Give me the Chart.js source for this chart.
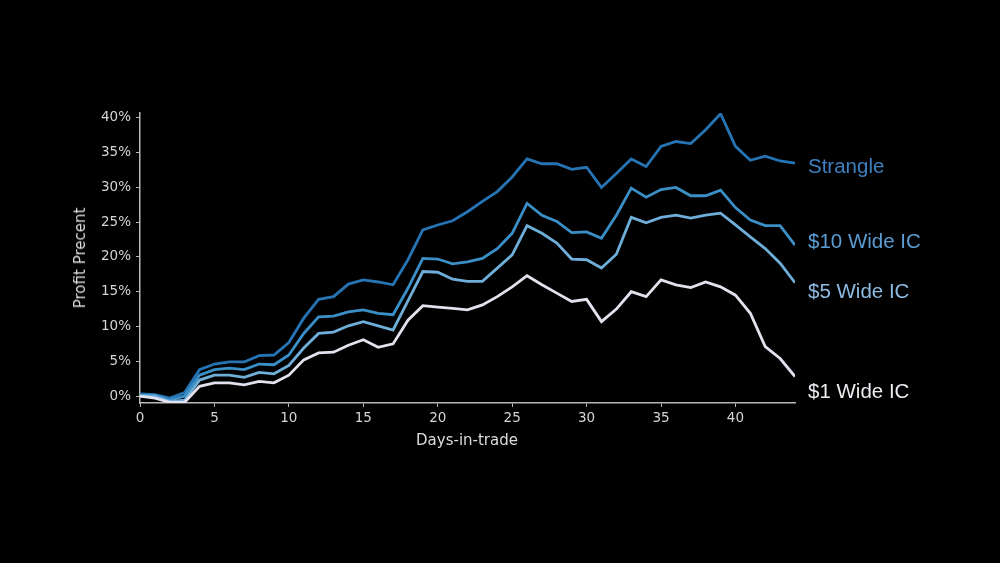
<!DOCTYPE html>
<html>
<head>
<meta charset="utf-8">
<script src="https://cdn.jsdelivr.net/npm/chart.js@4"></script>
<style>
  html, body { margin: 0; padding: 0; background: #000; }
  #wrap { position: relative; width: 1000px; height: 563px; }
  .lbl { position: absolute; font-family: "Liberation Sans", Arial, sans-serif; font-size: 20.5px; white-space: nowrap; transform: translateY(-50%); }
  .axt { position: absolute; font-family: "DejaVu Sans", sans-serif; font-size: 15px; color: #dcdcdc; white-space: nowrap; }
</style>
</head>
<body>
<div id="wrap">
  <canvas id="profitChart" width="1000" height="563"></canvas>
  <div class="axt" style="left:467px; top:440px; transform:translate(-50%,-50%);">Days-in-trade</div>
  <div class="axt" style="left:80px; top:258px; transform:translate(-50%,-50%) rotate(-90deg);">Profit Precent</div>
  <div class="lbl" style="left:808px; top:166px; color:#3e80c0;">Strangle</div>
  <div class="lbl" style="left:808px; top:241px; color:#5b9dd2;">$10 Wide IC</div>
  <div class="lbl" style="left:808px; top:291px; color:#8dbbe3;">$5 Wide IC</div>
  <div class="lbl" style="left:808px; top:391px; color:#ececf2;">$1 Wide IC</div>
</div>
<script>
// days 0..44
const days = [];
for (let d = 0; d <= 44; d++) days.push(d);

const strangle = [0.3, 0.2, -0.3, 0.5, 3.8, 4.6, 4.9, 4.9, 5.8, 5.9,
  7.7, 11.2, 13.9, 14.3, 16.1, 16.7, 16.4, 16.0, 19.6, 23.9,
  24.6, 25.2, 26.5, 28.0, 29.4, 31.5, 34.1, 33.4, 33.4, 32.6,
  32.9, 30.0, 32.0, 34.1, 33.0, 35.9, 36.6, 36.3, 38.3, 40.6,
  35.9, 33.9, 34.5, 33.8, 33.5];
const wide10 = [0.1, 0.1, -0.6, 0.0, 3.0, 3.8, 4.0, 3.8, 4.6, 4.5,
  5.9, 9.0, 11.4, 11.5, 12.1, 12.4, 11.9, 11.7, 15.5, 19.8,
  19.7, 19.0, 19.3, 19.8, 21.2, 23.4, 27.7, 26.0, 25.1, 23.5,
  23.6, 22.7, 26.0, 29.9, 28.6, 29.7, 30.0, 28.8, 28.8, 29.6,
  27.1, 25.3, 24.5, 24.5, 21.7];
const wide5 = [0.0, 0.0, -0.8, -0.6, 2.3, 3.0, 3.0, 2.7, 3.4, 3.2,
  4.4, 6.9, 9.0, 9.2, 10.1, 10.7, 10.1, 9.5, 13.7, 17.9,
  17.8, 16.8, 16.5, 16.5, 18.4, 20.3, 24.5, 23.4, 22.0, 19.7,
  19.6, 18.4, 20.4, 25.7, 24.9, 25.7, 26.0, 25.6, 26.0, 26.3,
  24.6, 22.9, 21.2, 19.1, 16.3];
const wide1 = [0.0, -0.3, -0.9, -0.9, 1.4, 1.9, 1.9, 1.6, 2.1, 1.9,
  3.0, 5.2, 6.2, 6.3, 7.3, 8.1, 7.0, 7.5, 10.9, 13.0,
  12.8, 12.6, 12.4, 13.1, 14.3, 15.7, 17.3, 16.0, 14.8, 13.6,
  13.9, 10.7, 12.5, 15.0, 14.3, 16.7, 16.0, 15.6, 16.4, 15.7,
  14.5, 11.9, 7.1, 5.4, 2.8];

const xTicks = [0, 5, 10, 15, 20, 25, 30, 35, 40];
const yTicks = [0, 5, 10, 15, 20, 25, 30, 35, 40];

function pts(arr) {
  return arr.map((v, i) => ({ x: days[i], y: v }));
}

function line(data, color) {
  return {
    data: pts(data),
    borderColor: color,
    borderWidth: 2.8,
    pointRadius: 0,
    tension: 0,
    fill: false
  };
}

const axisColor = '#b8b8b8';
const tickFont = { family: 'DejaVu Sans', size: 13.5 };

new Chart(document.getElementById('profitChart').getContext('2d'), {
  type: 'line',
  data: {
    datasets: [
      line(wide1, '#e2e2ee'),
      line(wide5, '#6eaed8'),
      line(wide10, '#3b8fc7'),
      line(strangle, '#2674b4')
    ]
  },
  options: {
    responsive: false,
    animation: false,
    layout: { padding: { left: 0, top: 113, right: 205, bottom: 0 } },
    plugins: { legend: { display: false }, tooltip: { enabled: false } },
    scales: {
      x: {
        type: 'linear',
        min: 0,
        max: 44,
        afterBuildTicks: s => { s.ticks = xTicks.map(v => ({ value: v })); },
        afterFit: s => { s.height = 160; },
        grid: { display: true, drawOnChartArea: false, drawTicks: true, tickLength: 4, color: axisColor },
        border: { display: true, color: axisColor, width: 1.5 },
        ticks: { color: '#d4d4d4', font: tickFont, padding: 3, maxRotation: 0 }
      },
      y: {
        type: 'linear',
        min: -1,
        max: 40.7,
        afterBuildTicks: s => { s.ticks = yTicks.map(v => ({ value: v })); },
        afterFit: s => { s.width = 140; },
        grid: { display: true, drawOnChartArea: false, drawTicks: true, tickLength: 4, color: axisColor },
        border: { display: true, color: axisColor, width: 1.5 },
        ticks: { color: '#d4d4d4', font: tickFont, padding: 5, callback: v => v + '%' }
      }
    }
  }
});
</script>
</body>
</html>
